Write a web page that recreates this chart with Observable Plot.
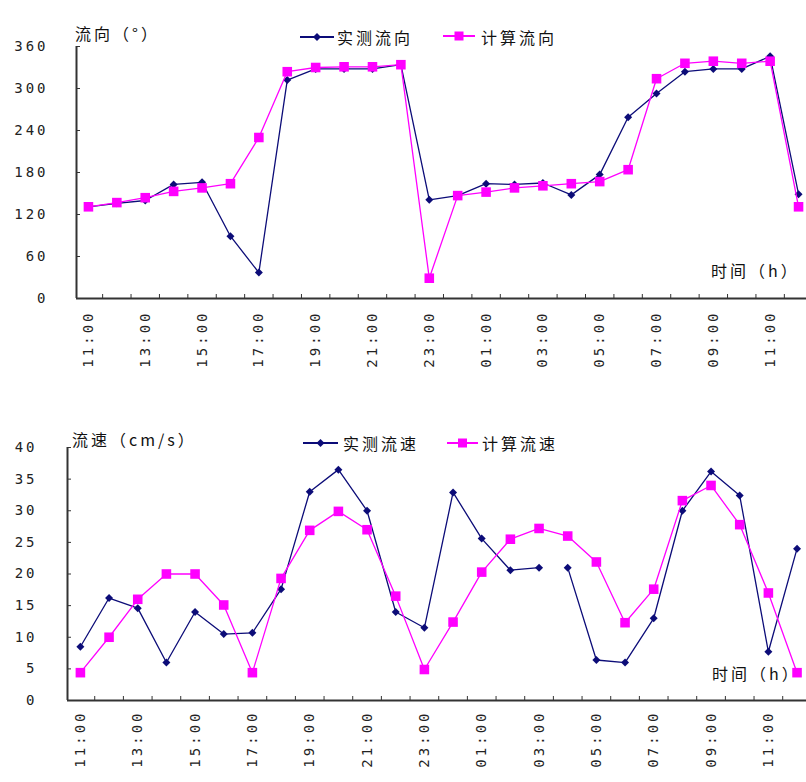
<!DOCTYPE html>
<html>
<head>
<meta charset="utf-8">
<script src="https://cdn.jsdelivr.net/npm/d3@7"></script>
<script src="https://cdn.jsdelivr.net/npm/@observablehq/plot@0.6"></script>
<style>
  body { margin: 0; background: #fff; }
  #wrap { position: relative; width: 806px; height: 782px; overflow: hidden; background: #fff; }
  .panel { position: absolute; left: 0; width: 806px; }
  .t { position: absolute; font-family: "Noto Sans CJK SC", sans-serif; font-size: 16px; line-height: 16px;
       color: #111; white-space: nowrap; letter-spacing: 3px; }
  .sw { position: absolute; }
</style>
</head>
<body>
<div id="wrap">
  <div class="panel" id="top" style="top:0;height:400px"></div>
  <div class="panel" id="bottom" style="top:400px;height:382px"></div>
</div>
<script>
// ---- data ----
const hours = ["11:00","12:00","13:00","14:00","15:00","16:00","17:00","18:00","19:00","20:00","21:00","22:00","23:00",
               "00:00","01:00","02:00","03:00","04:00","05:00","06:00","07:00","08:00","09:00","10:00","11:00","12:00"];
const tickLabels = ["11:00","13:00","15:00","17:00","19:00","21:00","23:00","01:00","03:00","05:00","07:00","09:00","11:00"];

const dirMeasured = [131,136,140,163,166,89,37,312,328,328,328,334,141,147,164,163,165,148,177,259,293,324,328,328,346,149];
const dirComputed = [131,137,144,153,158,164,230,324,330,331,331,334,29,147,152,158,161,164,167,184,314,336,339,336,339,131];
const dirTicks = [0,60,120,180,240,300,360];

const spdMeasured = [8.5,16.2,14.6,6,14,10.5,10.7,17.6,33,36.5,30,14,11.5,32.9,25.6,20.6,21,21,6.4,6,13,30,36.2,32.4,7.7,24];
const spdComputed = [4.4,10,16,20,20,15.1,4.4,19.3,26.9,29.9,27,16.5,4.9,12.4,20.3,25.5,27.2,26,21.9,12.3,17.6,31.6,34,27.8,17,4.4];
const spdTicks = [0,5,10,15,20,25,30,35,40];
const spdMeasuredBreakAfter = "03:00"; // measured speed line is broken after this hour

const seriesNames = {
  dir: ["实测流向", "计算流向"],
  spd: ["实测流速", "计算流速"]
};
const axisTitles = { dirY: "流向（°）", spdY: "流速（cm/s）", x: "时间（h）" };

const NAVY = "#0c0c78";
const PINK = "#ff00ff";

function chart(opts) {
  const rows = hours.map((h, i) => ({i, h, m: opts.measured[i], c: opts.computed[i]}));
  const breakIdx = opts.breakAfter ? hours.indexOf(opts.breakAfter) : Infinity;
  const tickIdx = tickLabels.map((_, k) => k * 2);
  const bounds = hours.slice(0, -1).map((_, i) => i + 0.5);
  return Plot.plot({
    width: 806,
    height: opts.height,
    marginTop: opts.marginTop,
    marginBottom: opts.marginBottom,
    marginLeft: opts.marginLeft,
    marginRight: 0,
    x: {type: "linear", domain: opts.xDomain},
    y: {domain: [opts.yTicks[0], opts.yTicks[opts.yTicks.length - 1]]},
    style: {background: "transparent", fontFamily: "'DejaVu Sans Mono', monospace", fontSize: "14px", color: "#222", letterSpacing: "3px"},
    marks: [
      Plot.axisY(opts.yTicks, {tickSize: 0, tickPadding: opts.yPad, label: null}),
      Plot.axisY(opts.yTicks, {tickSize: -4, tickFormat: () => "", label: null, stroke: "#333"}),
      Plot.axisX(tickIdx, {tickSize: 0, tickPadding: opts.xPad, tickRotate: -90, tickFormat: i => tickLabels[i / 2], label: null}),
      Plot.axisX(bounds, {tickSize: -4, tickFormat: () => "", label: null, stroke: "#333"}),
      Plot.ruleY([opts.yTicks[0]], {stroke: "#333", strokeWidth: 2}),
      Plot.ruleX([opts.xDomain[0]], {stroke: "#333", strokeWidth: 2}),
      Plot.lineY(rows, {x: "i", y: "m", z: d => d.i > breakIdx ? "b" : "a", stroke: NAVY, strokeWidth: 1.3}),
      Plot.dot(rows, {x: "i", y: "m", symbol: "diamond2", r: 3.6, fill: NAVY}),
      Plot.lineY(rows, {x: "i", y: "c", stroke: PINK, strokeWidth: 1.3}),
      Plot.dot(rows, {x: "i", y: "c", symbol: "square", r: 5.4, fill: PINK})
    ]
  });
}

document.getElementById("top").append(chart({
  height: 400, marginTop: 46, marginBottom: 102, marginLeft: 76,
  xDomain: [-0.42, 25.28], yTicks: dirTicks, yPad: 28, xPad: 12,
  measured: dirMeasured, computed: dirComputed
}));
document.getElementById("bottom").append(chart({
  height: 382, marginTop: 47, marginBottom: 82, marginLeft: 67,
  xDomain: [-0.45, 25.33], yTicks: spdTicks, yPad: 30, xPad: 10,
  measured: spdMeasured, computed: spdComputed, breakAfter: spdMeasuredBreakAfter
}));

// ---- titles & legends (HTML overlays) ----
const wrap = document.getElementById("wrap");
function text(str, left, top) {
  const d = document.createElement("div");
  d.className = "t"; d.textContent = str;
  d.style.left = left + "px"; d.style.top = top + "px";
  wrap.append(d);
}
function swatch(left, cy, w, color, shape) {
  const ns = "http://www.w3.org/2000/svg";
  const s = document.createElementNS(ns, "svg");
  s.setAttribute("class", "sw"); s.setAttribute("width", w); s.setAttribute("height", 12);
  s.style.left = left + "px"; s.style.top = (cy - 6) + "px";
  const l = document.createElementNS(ns, "line");
  l.setAttribute("x1", 0); l.setAttribute("x2", w); l.setAttribute("y1", 6); l.setAttribute("y2", 6);
  l.setAttribute("stroke", color); l.setAttribute("stroke-width", 2);
  s.append(l);
  const m = w / 2;
  let p;
  if (shape === "square") {
    p = document.createElementNS(ns, "rect");
    p.setAttribute("x", m - 4.5); p.setAttribute("y", 1.5); p.setAttribute("width", 9); p.setAttribute("height", 9);
  } else {
    p = document.createElementNS(ns, "path");
    p.setAttribute("d", `M${m},2L${m + 4},6L${m},10L${m - 4},6Z`);
  }
  p.setAttribute("fill", color);
  s.append(p);
  wrap.append(s);
}
// top chart
text(axisTitles.dirY, 75, 25);
swatch(300, 37, 34, NAVY, "diamond"); text(seriesNames.dir[0], 337, 29);
swatch(443, 36, 32, PINK, "square"); text(seriesNames.dir[1], 481, 29);
text(axisTitles.x, 711, 262);
// bottom chart
text(axisTitles.spdY, 72, 431);
swatch(303, 443, 35, NAVY, "diamond"); text(seriesNames.spd[0], 343, 435);
swatch(447, 443, 31, PINK, "square"); text(seriesNames.spd[1], 482, 435);
text(axisTitles.x, 712, 665);
</script>
</body>
</html>
